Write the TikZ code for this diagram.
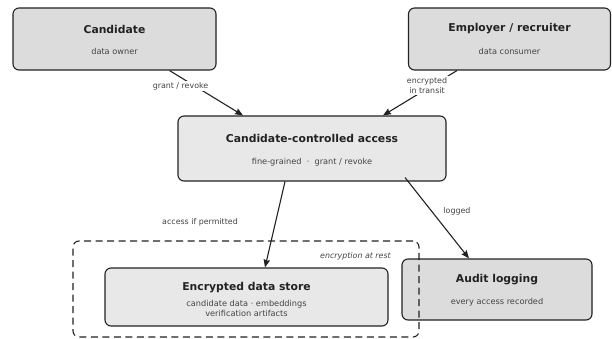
\documentclass[tikz,border=0pt]{standalone}
\usepackage{fontspec}
\setmainfont{DejaVu Sans}
\usetikzlibrary{arrows.meta,calc}
\definecolor{boxdark}{HTML}{DCDCDC}
\definecolor{boxlight}{HTML}{E8E8E8}
\definecolor{edgeline}{HTML}{222222}
\definecolor{subtxt}{HTML}{444444}
\tikzset{
  box/.style={draw=edgeline, line width=1.1pt, rounded corners=6pt, inner sep=0pt},
  title/.style={font=\fontsize{10.8}{12}\selectfont\bfseries, text=edgeline, inner sep=0pt},
  sub/.style={font=\fontsize{8.2}{9.8}\selectfont, text=subtxt, inner sep=0pt, align=center},
  elabel/.style={font=\fontsize{7.9}{9.3}\selectfont, text=subtxt, fill=white, inner sep=1.5pt, align=center},
  arr/.style={draw=edgeline, line width=1.1pt, -{Stealth[length=8pt,width=6.5pt,inset=1pt]}},
}
\begin{document}
\begin{tikzpicture}[x=1pt,y=-1pt]
\useasboundingbox (0,0) rectangle (612,339);
% boxes
\node[box, fill=boxdark, minimum width=203pt, minimum height=62pt] (cand) at (114.5,39) {};
\node[box, fill=boxdark, minimum width=202pt, minimum height=62pt] (emp) at (509.5,39) {};
\node[box, fill=boxlight, minimum width=268pt, minimum height=65pt] (ctrl) at (312,148.5) {};
\node[box, fill=boxdark, minimum width=190pt, minimum height=61pt] (audit) at (497,289.5) {};
\node[box, fill=boxlight, minimum width=283pt, minimum height=58pt] (store) at (246.5,297) {};
\node[draw=edgeline, line width=1.1pt, dash pattern=on 7pt off 4.5pt, rounded corners=6pt, minimum width=346pt, minimum height=96pt, inner sep=0pt] (rest) at (246,289) {};
% texts
\node[title] (candT) at (114.5,29) {Candidate};
\node[sub] (candS) at (114.5,51) {data owner};
\node[title] (empT) at (509.5,29) {Employer / recruiter};
\node[sub] (empS) at (509.5,51) {data consumer};
\node[title] (ctrlT) at (312,138) {Candidate-controlled access};
\node[sub] (ctrlS) at (312,162) {fine-grained~~·~~grant / revoke};
\node[title] (storeT) at (246.5,288) {Encrypted data store};
\node[sub] (storeS) at (246.5,308.5) {candidate data · embeddings\\verification artifacts};
\node[title] (auditT) at (497,280) {Audit logging};
\node[sub] (auditS) at (497,302) {every access recorded};
\node[font=\fontsize{7.9}{9}\selectfont\itshape, text=subtxt, anchor=east, inner sep=0pt] (restL) at (391,256) {encryption at rest};
% connectors
\draw[arr] ([xshift=55pt]cand.south) -- ([xshift=-69pt]ctrl.north);
\draw[arr] ([xshift=-52.5pt]emp.south) -- ([xshift=71pt]ctrl.north);
\draw[arr] ([xshift=-27pt]ctrl.south) -- ([xshift=18.5pt]store.north);
\draw[arr] ([xshift=93pt,yshift=4pt]ctrl.south) -- ([xshift=-28pt]audit.north);
% edge labels
\node[elabel] (l1) at (180.5,86) {grant / revoke};
\node[elabel] (l2) at (427,85.5) {encrypted\\in transit};
\node[elabel] (l3) at (200,222) {access if permitted};
\node[elabel] (l4) at (457,211) {logged};
\end{tikzpicture}
\end{document}
